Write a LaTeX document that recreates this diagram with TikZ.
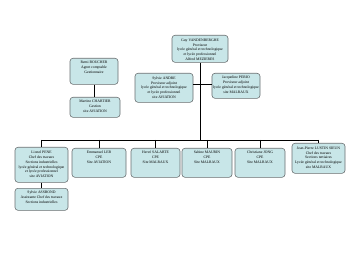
\documentclass[tikz,border=0pt]{standalone}
\usepackage{fontspec}
\setmainfont{Liberation Serif}
\usetikzlibrary{positioning,calc}
\definecolor{boxfill}{RGB}{200,230,232}
\definecolor{boxline}{RGB}{105,110,112}

\begin{document}
\begin{tikzpicture}[
    person/.style={rectangle, rounded corners=2.5pt, draw=boxline, line width=0.5pt, fill=boxfill, align=center, anchor=north, inner sep=1pt, font=\fontsize{3.2}{4.1}\selectfont},
    link/.style={black, line width=0.6pt}]
    \useasboundingbox (0,0) rectangle (10.8,7.62);

    % Direction
    \node[person, minimum width=1.68cm, text height=0.72cm, text depth=0.02cm] (guy) at (6.0,6.57) {Guy VANDENBERGHE\\Proviseur\\lycée général et technologique\\et lycée professionnel\\Alfred MEZIERES};

    % Gestion
    \node[person, minimum width=1.44cm, text height=0.41cm, text depth=0.30cm] (remi) at (2.82,5.88) {Remi BOUCHER\\Agent comptable\\Gestionnaire};
    \node[person, minimum width=1.5cm, text height=0.41cm, text depth=0.12cm] (martine) at (2.85,4.71) {Martine CHARTIER\\Gestion\\site AVIATION};

    % Adjoints
    \node[person, minimum width=1.74cm, text height=0.72cm, text depth=0.08cm] (andre) at (4.92,5.43) {Sylvie ANDRE\\Proviseur adjoint\\lycée général et technologique\\et lycée professionnel\\site AVIATION};
    \node[person, minimum width=1.44cm, text height=0.565cm, text depth=0.115cm] (perio) at (7.08,5.43) {Jacqueline PERIO\\Proviseur adjoint\\lycée général et technologique\\site MALRAUX};

    % Bottom row
    \node[person, minimum width=1.59cm, text height=0.875cm, text depth=0.105cm] (pene) at (1.245,3.21) {Lionel PENE\\Chef des travaux\\Sections industrielles\\lycée général et technologique\\et lycée professionnel\\site AVIATION};
    \node[person, minimum width=1.62cm, text height=0.41cm, text depth=0.39cm] (leb) at (2.97,3.18) {Emmanuel LEB\\CPE\\Site AVIATION};
    \node[person, minimum width=1.47cm, text height=0.41cm, text depth=0.39cm] (salarte) at (4.665,3.18) {Hervé SALARTE\\CPE\\Site MALRAUX};
    \node[person, minimum width=1.5cm, text height=0.41cm, text depth=0.39cm] (maurin) at (6.21,3.18) {Sabine MAURIN\\CPE\\Site MALRAUX};
    \node[person, minimum width=1.5cm, text height=0.41cm, text depth=0.39cm] (jong) at (7.8,3.18) {Christiane JONG\\CPE\\Site MALRAUX};
    \node[person, minimum width=1.59cm, text height=0.72cm, text depth=0.11cm] (lustin) at (9.555,3.33) {Jean-Pierre LUSTIN SIEUN\\Chef des travaux\\Sections tertiaires\\Lycée général et technologique\\site MALRAUX};
    \node[person, minimum width=1.59cm, text height=0.41cm, text depth=0.18cm] (assbond) at (1.245,1.98) {Sylvie ASSBOND\\Assistante Chef des travaux\\Sections industrielles};

    \coordinate (bar) at (6.0,3.42);
    \coordinate (branch) at (6.0,5.1);

    % Links
    \draw[link] (guy.south) -- (bar);
    \draw[link] (andre.east |- branch) -- (perio.west |- branch);
    \draw[link] (remi.south) -- (remi.south |- martine.north);
    \draw[link] (pene.north |- bar) -- (lustin.north |- bar);
    \foreach \p in {pene,leb,salarte,maurin,jong,lustin}
        \draw[link] (\p.north |- bar) -- (\p.north);
    \draw[link] (pene.south) -- (assbond.north);

\end{tikzpicture}
\end{document}
